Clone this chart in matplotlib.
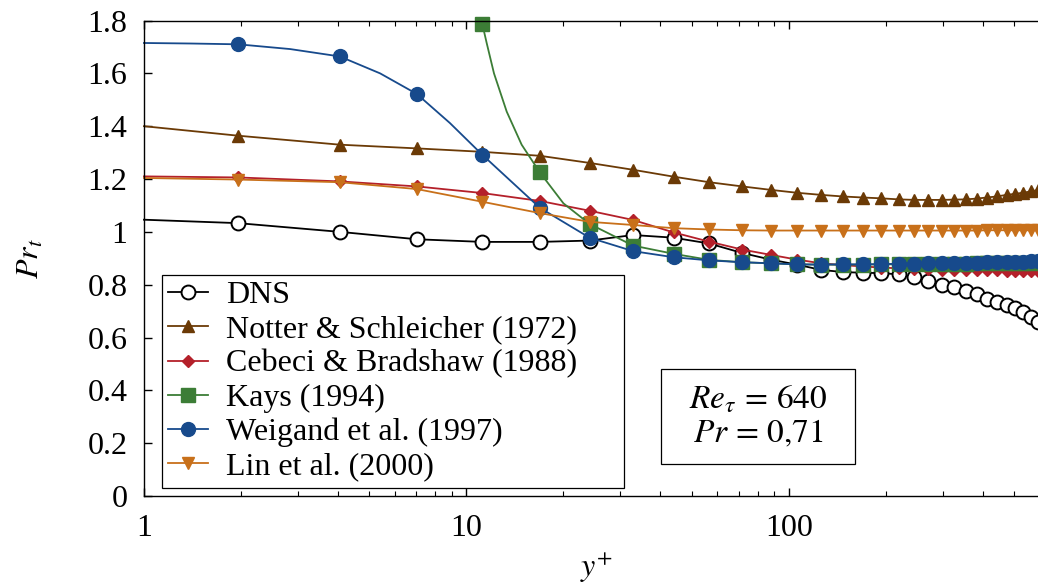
import numpy as np
import matplotlib
matplotlib.use("Agg")
import matplotlib.pyplot as plt
from matplotlib.patches import Rectangle
from matplotlib.ticker import FuncFormatter, LogLocator, NullFormatter

plt.rcParams['font.family'] = 'serif'
plt.rcParams['font.serif'] = ['Liberation Serif', 'DejaVu Serif']
plt.rcParams['mathtext.fontset'] = 'stix'
plt.rcParams['font.size'] = 23

# --- data ---
# y+ positions of the markers (shared by all curves)
yplus = [1.96, 4.05, 7.02, 11.2, 16.9, 24.1, 32.9, 43.9, 56.6, 71.7, 87.9, 106,
         126, 147, 170, 193, 219, 245, 271, 298, 325, 354, 383, 411, 441, 474,
         503, 532, 563, 593]

dns = [1.033, 1.000, 0.972, 0.962, 0.962, 0.967, 0.988, 0.978, 0.956, 0.920,
       0.895, 0.876, 0.856, 0.848, 0.845, 0.844, 0.839, 0.828, 0.813, 0.800,
       0.791, 0.778, 0.766, 0.747, 0.734, 0.722, 0.713, 0.696, 0.677, 0.658]
notter = [1.364, 1.330, 1.316, 1.303, 1.288, 1.261, 1.235, 1.209, 1.188, 1.172,
          1.159, 1.148, 1.140, 1.134, 1.130, 1.127, 1.123, 1.121, 1.121, 1.121,
          1.122, 1.123, 1.126, 1.130, 1.134, 1.140, 1.144, 1.148, 1.153, 1.158]
cebeci = [1.206, 1.191, 1.172, 1.147, 1.117, 1.080, 1.045, 0.998, 0.963, 0.933,
          0.913, 0.895, 0.881, 0.874, 0.869, 0.865, 0.862, 0.860, 0.858, 0.857,
          0.856, 0.855, 0.855, 0.854, 0.854, 0.853, 0.853, 0.853, 0.852, 0.852]
# Kays starts at the 4th marker (above 1.8 before that)
kays = [1.788, 1.225, 1.030, 0.948, 0.917, 0.894, 0.885, 0.881, 0.877,
        0.876, 0.876, 0.876, 0.877, 0.877, 0.878, 0.878, 0.879, 0.880, 0.880,
        0.881, 0.882, 0.882, 0.883, 0.883, 0.884, 0.884, 0.885]
weigand = [1.710, 1.664, 1.522, 1.292, 1.091, 0.978, 0.927, 0.904, 0.892, 0.885,
           0.881, 0.877, 0.876, 0.877, 0.877, 0.878, 0.879, 0.880, 0.881, 0.882,
           0.883, 0.884, 0.884, 0.885, 0.886, 0.886, 0.887, 0.887, 0.888, 0.888]
lin = [1.198, 1.188, 1.162, 1.114, 1.071, 1.038, 1.026, 1.014, 1.009, 1.006,
       1.005, 1.005, 1.005, 1.005, 1.005, 1.005, 1.005, 1.005, 1.005, 1.005,
       1.005, 1.005, 1.005, 1.006, 1.006, 1.006, 1.006, 1.006, 1.006, 1.006]

# extra points on the lines (no marker)
dns_extra_x, dns_extra_y = [1.0], [1.046]
notter_extra_x, notter_extra_y = [1.0], [1.400]
cebeci_extra_x, cebeci_extra_y = [1.0], [1.210]
kays_extra_x = [11.56, 12.18, 13.34, 14.84, 20.0]
kays_extra_y = [1.715, 1.600, 1.455, 1.330, 1.108]
weigand_extra_x = [1.0, 1.4, 2.84, 5.40, 8.89]
weigand_extra_y = [1.715, 1.713, 1.692, 1.600, 1.412]
lin_extra_x, lin_extra_y = [1.0], [1.204]

labels = ['DNS', 'Notter & Schleicher (1972)', 'Cebeci & Bradshaw (1988)',
          'Kays (1994)', 'Weigand et al. (1997)', 'Lin et al. (2000)']

fig = plt.figure(figsize=(10.38, 5.85), dpi=100)
ax = fig.add_axes([0.1387, 0.1521, 0.8716, 0.8128])


def draw(xm, ym, xe, ye, **kw):
    x = np.concatenate([xm, xe])
    y = np.concatenate([ym, ye])
    order = np.argsort(x)
    is_mark = np.concatenate([np.ones(len(xm), bool), np.zeros(len(xe), bool)])[order]
    ax.plot(x[order], y[order], markevery=list(is_mark), clip_on=False, lw=1.3, **kw)


draw(yplus, dns, dns_extra_x, dns_extra_y, color='black', marker='o', ms=10,
     mfc='white', mec='black', mew=1.4, label=labels[0])
draw(yplus, notter, notter_extra_x, notter_extra_y, color='#6b3a06', marker='^',
     ms=8, label=labels[1])
draw(yplus, cebeci, cebeci_extra_x, cebeci_extra_y, color='#b4202a', marker='D',
     ms=6.5, label=labels[2])
draw(yplus[3:], kays, kays_extra_x, kays_extra_y, color='#3c7d36', marker='s',
     ms=9.5, label=labels[3])
draw(yplus, weigand, weigand_extra_x, weigand_extra_y, color='#174a8c', marker='o',
     ms=10, label=labels[4])
draw(yplus, lin, lin_extra_x, lin_extra_y, color='#c8701a', marker='v', ms=8.5,
     label=labels[5])

ax.set_xscale('log')
ax.set_xlim(1, 640)
ax.set_ylim(0, 1.8)
ax.set_yticks(np.arange(0, 1.81, 0.2))
ax.yaxis.set_major_formatter(FuncFormatter(lambda v, p: '%g' % round(v, 1)))
ax.xaxis.set_major_locator(LogLocator(base=10))
ax.xaxis.set_major_formatter(FuncFormatter(lambda v, p: '%g' % v))
ax.xaxis.set_minor_formatter(NullFormatter())
ax.tick_params(which='both', direction='in', top=True, right=True)
ax.tick_params(axis='y', pad=12)
ax.tick_params(axis='x', pad=13)
ax.tick_params(which='major', length=6, width=1.0)
ax.tick_params(which='minor', length=3.5, width=0.8)
for s in ax.spines.values():
    s.set_linewidth(1.0)

ax.set_xlabel('$y^{+}$', labelpad=5)
ax.set_ylabel('$Pr_t$', labelpad=30)

leg = ax.legend(loc='lower left', bbox_to_anchor=(0.0196, 0.0175, 0.511, 0.2),
                mode='expand', borderaxespad=0,
                fancybox=False, edgecolor='black', framealpha=1, handlelength=1.25,
                handletextpad=0.55, labelspacing=0.15, borderpad=0.2)
leg.get_frame().set_linewidth(0.9)

ax.add_patch(Rectangle((0.571, 0.0673), 0.215, 0.2, transform=ax.transAxes,
                       fill=False, edgecolor='black', lw=0.9))
ax.text(0.6786, 0.167, '$Re_\\tau\\,=\\,640$\n$Pr\\,=\\,0{,}71$', transform=ax.transAxes,
        ha='center', va='center', multialignment='center', linespacing=1.1,
        fontsize=24)

fig.savefig('out.png', dpi=100)
